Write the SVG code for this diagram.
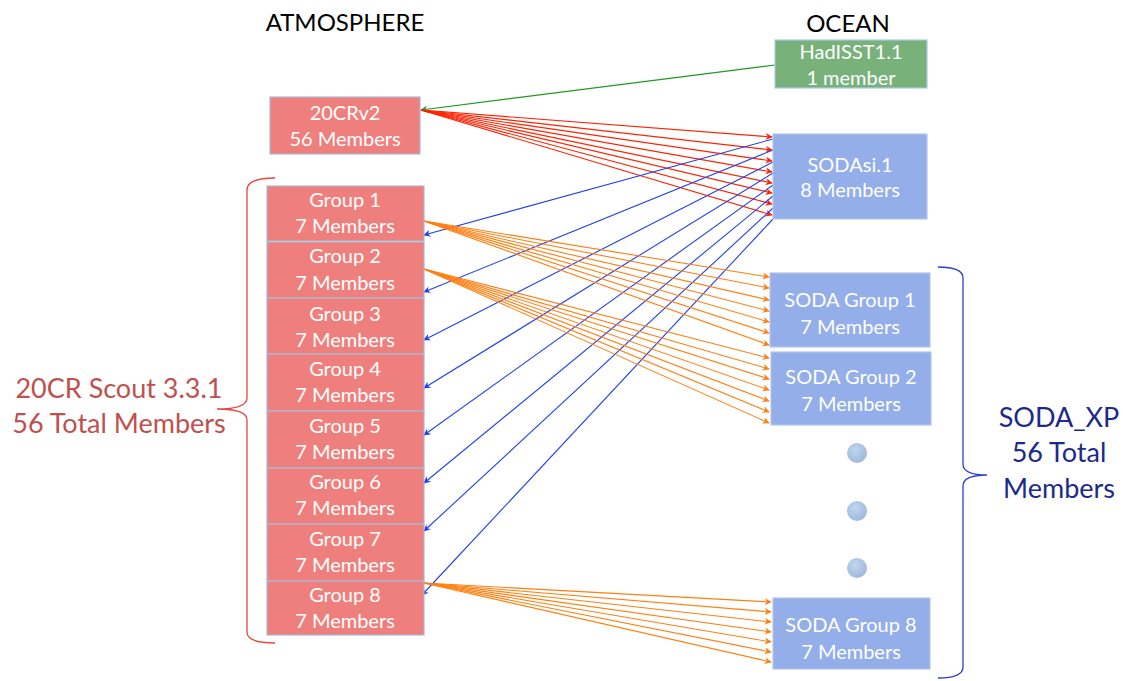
<svg xmlns="http://www.w3.org/2000/svg" width="1123" height="681" viewBox="0 0 1123 681">
<defs>
<style>
.t{font-family:Lato,"Liberation Sans",sans-serif;fill:#fff;font-size:20px;text-anchor:middle}
.h{font-family:Lato,"Liberation Sans",sans-serif;fill:#000;font-size:24px;text-anchor:middle}
.rb{fill:#ef7f7d;stroke:#a9b9d6;stroke-width:1.2}
.bb{fill:#93aee9;stroke:#b4c6e6;stroke-width:1.2}
.gb{fill:#78b27a;stroke:#a9c9e0;stroke-width:1.2}
.cr{stroke:#ff2200;stroke-width:1.1;fill:none;marker-end:url(#mr)}
.cb{stroke:#2040f0;stroke-width:1.1;fill:none;marker-end:url(#mb)}
.co{stroke:#ff7f10;stroke-width:1.1;fill:none;marker-end:url(#mo)}
.cg{stroke:#1e9a1e;stroke-width:1.2;fill:none;marker-end:url(#mg)}
</style>
<marker id="mr" viewBox="0 0 10 10" refX="9" refY="5" markerWidth="7" markerHeight="7" markerUnits="userSpaceOnUse" orient="auto"><path d="M0,0 L10,5 L0,10 L3,5 z" fill="#ff2200"/></marker>
<marker id="mb" viewBox="0 0 10 10" refX="9" refY="5" markerWidth="7" markerHeight="7" markerUnits="userSpaceOnUse" orient="auto"><path d="M0,0 L10,5 L0,10 L3,5 z" fill="#2040f0"/></marker>
<marker id="mo" viewBox="0 0 10 10" refX="9" refY="5" markerWidth="7" markerHeight="7" markerUnits="userSpaceOnUse" orient="auto"><path d="M0,0 L10,5 L0,10 L3,5 z" fill="#ff7f10"/></marker>
<marker id="mg" viewBox="0 0 10 10" refX="9" refY="5" markerWidth="7" markerHeight="7" markerUnits="userSpaceOnUse" orient="auto"><path d="M0,0 L10,5 L0,10 L3,5 z" fill="#1e9a1e"/></marker>
<radialGradient id="dot" cx="0.4" cy="0.35" r="0.7"><stop offset="0" stop-color="#c2d5ec"/><stop offset="1" stop-color="#9ab8dc"/></radialGradient>
</defs>
<rect width="1123" height="681" fill="#fff"/>
<text class="h" x="345" y="31">ATMOSPHERE</text>
<text class="h" x="848" y="32">OCEAN</text>

<g id="connectors">
<line class="cg" x1="775" y1="65" x2="421" y2="110"/>
<line class="cr" x1="421" y1="110" x2="772" y2="137"/>
<line class="cr" x1="421" y1="110" x2="772" y2="150"/>
<line class="cr" x1="421" y1="110" x2="772" y2="161"/>
<line class="cr" x1="421" y1="110" x2="772" y2="172"/>
<line class="cr" x1="421" y1="110" x2="772" y2="183"/>
<line class="cr" x1="421" y1="110" x2="772" y2="193"/>
<line class="cr" x1="421" y1="110" x2="772" y2="204"/>
<line class="cr" x1="421" y1="110" x2="772" y2="215"/>
<line class="cb" x1="773" y1="139" x2="424" y2="235"/>
<line class="cb" x1="773" y1="150" x2="424" y2="292"/>
<line class="cb" x1="773" y1="162" x2="424" y2="340"/>
<line class="cb" x1="773" y1="173" x2="424" y2="388"/>
<line class="cb" x1="773" y1="185" x2="424" y2="435"/>
<line class="cb" x1="773" y1="196" x2="424" y2="483"/>
<line class="cb" x1="773" y1="208" x2="424" y2="531"/>
<line class="cb" x1="773" y1="219" x2="422" y2="595"/>
<line class="co" x1="424" y1="221" x2="769" y2="277"/>
<line class="co" x1="424" y1="221" x2="769" y2="288"/>
<line class="co" x1="424" y1="221" x2="769" y2="300"/>
<line class="co" x1="424" y1="221" x2="769" y2="311"/>
<line class="co" x1="424" y1="221" x2="769" y2="322"/>
<line class="co" x1="424" y1="221" x2="769" y2="333"/>
<line class="co" x1="424" y1="221" x2="769" y2="345"/>
<line class="co" x1="424" y1="269" x2="769" y2="358"/>
<line class="co" x1="424" y1="269" x2="769" y2="369"/>
<line class="co" x1="424" y1="269" x2="769" y2="379"/>
<line class="co" x1="424" y1="269" x2="769" y2="390"/>
<line class="co" x1="424" y1="269" x2="769" y2="401"/>
<line class="co" x1="424" y1="269" x2="769" y2="412"/>
<line class="co" x1="424" y1="269" x2="769" y2="423"/>
<line class="co" x1="424" y1="583" x2="771" y2="602"/>
<line class="co" x1="424" y1="583" x2="771" y2="612"/>
<line class="co" x1="424" y1="583" x2="771" y2="622"/>
<line class="co" x1="424" y1="583" x2="771" y2="632"/>
<line class="co" x1="424" y1="583" x2="771" y2="642"/>
<line class="co" x1="424" y1="583" x2="771" y2="652"/>
<line class="co" x1="424" y1="583" x2="771" y2="662"/>
</g>

<g id="hadisst"><rect class="gb" x="775" y="40" width="152" height="48"/><text class="t" x="851" y="59">HadISST1.1</text><text class="t" x="851" y="85">1 member</text></g>
<g id="cr20v2"><rect class="rb" x="270" y="97" width="150" height="57"/><text class="t" x="345" y="120">20CRv2</text><text class="t" x="345" y="146">56 Members</text></g>
<g id="sodasi"><rect class="bb" x="773" y="134" width="154" height="85"/><text class="t" x="850" y="172">SODAsi.1</text><text class="t" x="850" y="197">8 Members</text></g>

<g id="group1"><rect class="rb" x="267" y="186" width="157" height="55"/><text class="t" x="345" y="207">Group 1</text><text class="t" x="345" y="233">7 Members</text></g>
<g id="group2"><rect class="rb" x="267" y="242" width="157" height="56"/><text class="t" x="345" y="263">Group 2</text><text class="t" x="345" y="290">7 Members</text></g>
<g id="group3"><rect class="rb" x="267" y="298" width="157" height="56"/><text class="t" x="345" y="321">Group 3</text><text class="t" x="345" y="347">7 Members</text></g>
<g id="group4"><rect class="rb" x="267" y="354" width="157" height="57"/><text class="t" x="345" y="376">Group 4</text><text class="t" x="345" y="402">7 Members</text></g>
<g id="group5"><rect class="rb" x="267" y="411" width="157" height="57"/><text class="t" x="345" y="433">Group 5</text><text class="t" x="345" y="459">7 Members</text></g>
<g id="group6"><rect class="rb" x="267" y="468" width="157" height="56"/><text class="t" x="345" y="489">Group 6</text><text class="t" x="345" y="515">7 Members</text></g>
<g id="group7"><rect class="rb" x="267" y="524" width="157" height="57"/><text class="t" x="345" y="546">Group 7</text><text class="t" x="345" y="572">7 Members</text></g>
<g id="group8"><rect class="rb" x="267" y="581" width="157" height="54"/><text class="t" x="345" y="602">Group 8</text><text class="t" x="345" y="628">7 Members</text></g>

<g id="sodag1"><rect class="bb" x="770" y="273" width="160" height="74"/><text class="t" x="850" y="307">SODA Group 1</text><text class="t" x="850" y="334">7 Members</text></g>
<g id="sodag2"><rect class="bb" x="771" y="352" width="160" height="73"/><text class="t" x="851" y="384">SODA Group 2</text><text class="t" x="851" y="411">7 Members</text></g>
<g id="sodag8"><rect class="bb" x="773" y="598" width="157" height="71"/><text class="t" x="851" y="632">SODA Group 8</text><text class="t" x="851" y="659">7 Members</text></g>

<g id="dots">
<circle cx="857" cy="453" r="10" fill="url(#dot)"/>
<circle cx="857" cy="511" r="10" fill="url(#dot)"/>
<circle cx="857" cy="568" r="10" fill="url(#dot)"/>
</g>

<g id="scout-brace">
<path d="M275,178 Q247,178 247,190 L247,398 Q247,409 217,409 Q247,409 247,420 L247,632 Q247,643 275,643" fill="none" stroke="#e8463a" stroke-width="1.3"/>
<text font-family="Lato,'Liberation Sans',sans-serif" font-size="27" fill="#c0504d" text-anchor="middle"><tspan x="119" y="398">20CR Scout 3.3.1</tspan><tspan x="119" y="433">56 Total Members</tspan></text>
</g>
<g id="sodaxp-brace">
<path d="M938,267 Q963,267 963,278 L963,464 Q963,475 987,475 Q963,475 963,486 L963,667 Q963,678 938,678" fill="none" stroke="#2a3fd0" stroke-width="1.3"/>
<text font-family="Lato,'Liberation Sans',sans-serif" font-size="27" fill="#1c2a8a" text-anchor="middle"><tspan x="1059" y="427">SODA_XP</tspan><tspan x="1059" y="462">56 Total</tspan><tspan x="1059" y="498">Members</tspan></text>
</g>
</svg>
